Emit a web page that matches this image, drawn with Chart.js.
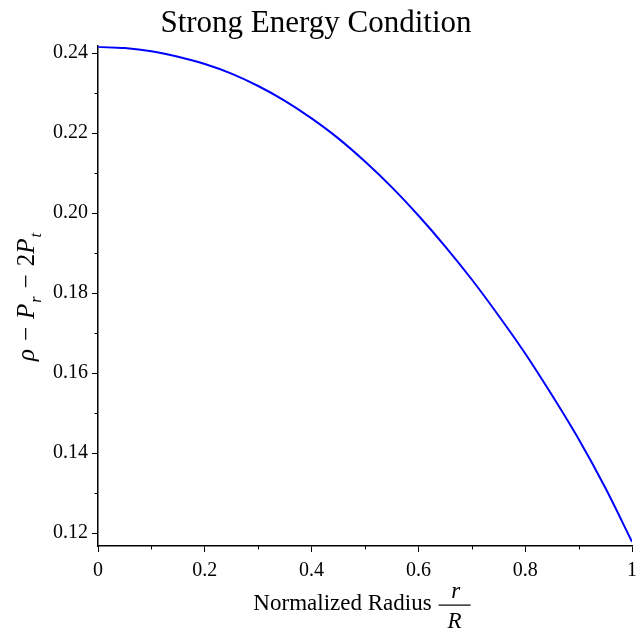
<!DOCTYPE html>
<html><head><meta charset="utf-8">
<script src="https://cdn.jsdelivr.net/npm/chart.js@4/dist/chart.umd.min.js"></script>
<style>html,body{margin:0;padding:0;background:#fff;}#wrap{width:642px;height:632px;}</style>
</head><body><div id="wrap"><canvas id="c" width="642" height="632"></canvas></div>
<script>
const radius = [0,0.05,0.1,0.15,0.2,0.25,0.3,0.35,0.4,0.45,0.5,0.55,0.6,0.65,0.7,0.75,0.8,0.85,0.9,0.95,1];
const secValues = [0.2416,0.2413,0.2405,0.2391,0.2373,0.2349,0.2318,0.2281,0.2237,0.2187,0.2129,0.2065,0.1994,0.1917,0.1834,0.1744,0.1649,0.1545,0.1435,0.1313,0.1178];
const xTicks = [0,0.2,0.4,0.6,0.8,1];
const xTickLabels = ['0','0.2','0.4','0.6','0.8','1'];
const xMinorTicks = [0.1,0.3,0.5,0.7,0.9];
const yTicks = [0.12,0.14,0.16,0.18,0.20,0.22,0.24];
const yTickLabels = ['0.12','0.14','0.16','0.18','0.20','0.22','0.24'];
const yMinorTicks = [0.13,0.15,0.17,0.19,0.21,0.23];
const yMin = 0.11675, yMax = 0.24175;

const SERIF = '"Liberation Serif", "Times New Roman", serif';

const labelPlugin = {
  id: 'mathLabels',
  afterDraw(chart) {
    const ctx = chart.ctx, xs = chart.scales.x, ys = chart.scales.y, ca = chart.chartArea;
    ctx.save();
    // minor ticks
    ctx.strokeStyle = '#000'; ctx.lineWidth = 1;
    ctx.beginPath();
    xMinorTicks.forEach(v => { const p = Math.round(xs.getPixelForValue(v)) + 0.5; ctx.moveTo(p, ca.bottom); ctx.lineTo(p, ca.bottom + 3.5); });
    yMinorTicks.forEach(v => { const p = Math.round(ys.getPixelForValue(v)) + 0.5; ctx.moveTo(ca.left, p); ctx.lineTo(ca.left - 3.5, p); });
    ctx.stroke();

    ctx.fillStyle = '#000';
    ctx.textBaseline = 'alphabetic';
    ctx.textAlign = 'left';
    // y-axis title
    const big = 25, small = 16, gap = 8;
    const pieces = [
      {t:'\u03C1', f:'italic ' + big + 'px ' + SERIF, dy:0, pre:0},
      {t:'\u2212', f:big + 'px ' + SERIF, dy:0, pre:gap, post:gap},
      {t:'P', f:'italic ' + big + 'px ' + SERIF, dy:0},
      {t:'r', f:'italic ' + small + 'px ' + SERIF, dy:7, pre:1},
      {t:'\u2212', f:big + 'px ' + SERIF, dy:0, pre:gap, post:gap},
      {t:'2', f:big + 'px ' + SERIF, dy:0},
      {t:'P', f:'italic ' + big + 'px ' + SERIF, dy:0},
      {t:'t', f:'italic ' + small + 'px ' + SERIF, dy:7, pre:1}
    ];
    let total = 0;
    pieces.forEach(p => { ctx.font = p.f; p.w = ctx.measureText(p.t).width; total += (p.pre||0) + p.w + (p.post||0); });
    ctx.translate(34, (ca.top + ca.bottom) / 2 + 1);
    ctx.rotate(-Math.PI / 2);
    let x = -total / 2;
    pieces.forEach(p => { x += (p.pre||0); ctx.font = p.f; ctx.fillText(p.t, x, p.dy); x += p.w + (p.post||0); });
    ctx.setTransform(1,0,0,1,0,0);

    // x-axis title
    ctx.font = '23px ' + SERIF;
    const txt = 'Normalized Radius';
    const w1 = ctx.measureText(txt).width;
    ctx.font = 'italic 23px ' + SERIF;
    const wR = ctx.measureText('R').width;
    const barW = wR + 18, g2 = 7;
    const tot = w1 + g2 + barW;
    const sx = (ca.left + ca.right) / 2 - tot / 2 - 3;
    ctx.font = '23px ' + SERIF;
    ctx.fillText(txt, sx, 610);
    const fx = sx + w1 + g2, fc = fx + barW / 2;
    ctx.font = 'italic 23px ' + SERIF;
    ctx.textAlign = 'center';
    ctx.fillText('r', fc + 1, 598);
    ctx.fillText('R', fc, 628);
    ctx.fillRect(fx, 604.5, barW, 1.2);
    ctx.restore();
  }
};

const axisCommon = {
  border: {display: true, color: '#000', width: 1.5},
  grid: {display: true, drawOnChartArea: false, drawTicks: true, tickLength: 6, tickColor: '#000', tickWidth: 1},
};

new Chart(document.getElementById('c'), {
  type: 'line',
  data: {
    datasets: [{
      data: radius.map((r, i) => ({x: r, y: secValues[i]})),
      borderColor: '#0000ff',
      borderWidth: 2,
      pointRadius: 0,
      fill: false,
      cubicInterpolationMode: 'monotone'
    }]
  },
  options: {
    responsive: false,
    animation: false,
    devicePixelRatio: 1,
    layout: {padding: {left: 0, right: 10, top: 0, bottom: 0}},
    plugins: {
      legend: {display: false},
      tooltip: {enabled: false},
      title: {
        display: true,
        text: 'Strong Energy Condition',
        color: '#000',
        font: {family: SERIF, size: 31, weight: 'normal', lineHeight: 1.2},
        padding: {top: 5, bottom: 4}
      }
    },
    scales: {
      x: Object.assign({}, axisCommon, {
        type: 'linear', position: 'bottom', min: 0, max: 1,
        ticks: {color: '#000', font: {family: SERIF, size: 20}, padding: 7, maxRotation: 0, autoSkip: false,
          callback: (v, i) => xTickLabels[i]},
        afterBuildTicks: s => { s.ticks = xTicks.map(v => ({value: v})); },
        afterFit: s => { s.height = 86; s.paddingLeft = 0; s.paddingRight = 6; }
      }),
      y: Object.assign({}, axisCommon, {
        type: 'linear', position: 'left', min: yMin, max: yMax,
        ticks: {color: '#000', font: {family: SERIF, size: 20}, padding: 4, autoSkip: false,
          callback: (v, i) => yTickLabels[i]},
        afterBuildTicks: s => { s.ticks = yTicks.map(v => ({value: v})); },
        afterFit: s => { s.width = 98; }
      })
    }
  },
  plugins: [labelPlugin]
});
</script>
</body></html>
